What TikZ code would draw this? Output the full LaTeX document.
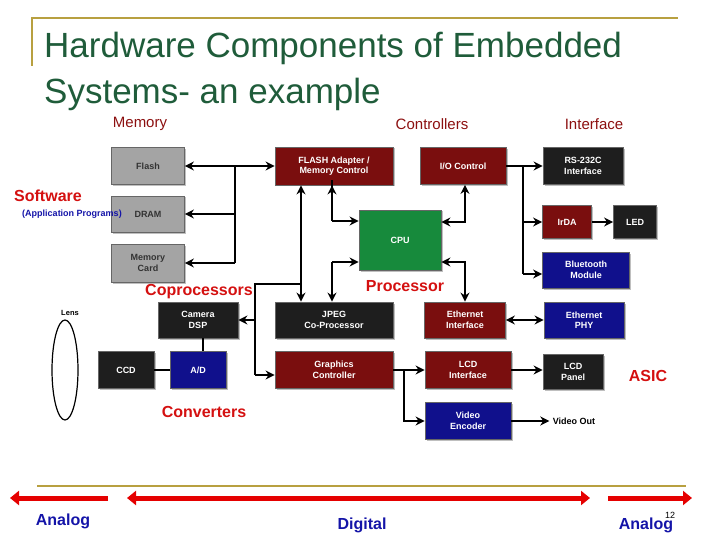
\documentclass[tikz,border=0pt]{standalone}
\usepackage{fontspec}
\setmainfont{Liberation Sans}
\usetikzlibrary{arrows.meta,shadows}
\definecolor{bxgray}{HTML}{A4A4A4}
\definecolor{bxred}{HTML}{7A0E0E}
\definecolor{bxblack}{HTML}{1E1E1E}
\definecolor{bxblue}{HTML}{10108C}
\definecolor{bxgreen}{HTML}{178A3C}
\definecolor{ttl}{HTML}{1F5C3A}
\definecolor{lbred}{HTML}{D41010}
\definecolor{lbblue}{HTML}{1414A8}
\definecolor{gold}{HTML}{B8A040}
\definecolor{hdred}{HTML}{8C1010}
\tikzset{
  bx/.style={draw=black!60,line width=0.8pt,minimum width=#1,inner sep=1pt,align=center,font=\fontsize{9}{10.5}\selectfont\bfseries,text=white,drop shadow={shadow xshift=1.5pt,shadow yshift=-1.5pt,opacity=0.5}},
  gbx/.style={bx=#1,fill=bxgray,text=black!80},
  rbx/.style={bx=#1,fill=bxred},
  kbx/.style={bx=#1,fill=bxblack},
  ubx/.style={bx=#1,fill=bxblue},
  ar/.style={line width=2pt,-{Stealth[length=9pt,width=9pt]}},
  dar/.style={line width=2pt,{Stealth[length=9pt,width=9pt]}-{Stealth[length=9pt,width=9pt]}},
  ln/.style={line width=2pt},
  redlbl/.style={text=lbred,font=\fontsize{16}{18}\selectfont\bfseries},
  hdr/.style={text=hdred,font=\fontsize{15}{17}\selectfont},
  blulbl/.style={text=lbblue,font=\fontsize{16}{18}\selectfont\bfseries},
  bigarr/.style={line width=5pt,draw=red!90!black,-{Triangle[length=9pt,width=14pt]}},
  bigdarr/.style={line width=5pt,draw=red!90!black,{Triangle[length=9pt,width=14pt]}-{Triangle[length=9pt,width=14pt]}}
}
\begin{document}
\begin{tikzpicture}[x=1pt,y=-1pt]
\useasboundingbox (0,0) rectangle (720,540);
% frame lines
\draw[gold,line width=2pt] (32,66) -- (32,18) -- (678,18);
\draw[gold,line width=2.5pt] (37,486) -- (686,486);
% title
\node[anchor=west,text=ttl,font=\fontsize{35}{38}\selectfont,inner sep=0pt] (title) at (44,48) {Hardware Components of Embedded};
\node[anchor=west,text=ttl,font=\fontsize{35}{38}\selectfont,inner sep=0pt] (title2) at (44,94) {Systems- an example};
\node[hdr] (hmem) at (140,124) {Memory};
\node[hdr] (hctl) at (432,124) {Controllers};
\node[hdr] (hint) at (594,124) {Interface};
% boxes
\node[gbx=73pt,minimum height=37pt] (flash) at (148,166) {Flash};
\node[gbx=73pt,minimum height=36pt] (dram) at (148,214) {DRAM};
\node[gbx=73pt,minimum height=38pt] (card) at (148,263) {Memory\\Card};
\node[rbx=118pt,minimum height=38pt] (fad) at (334,166) {FLASH Adapter /\\Memory Control};
\node[rbx=86pt,minimum height=37pt] (io) at (463,166) {I/O Control};
\node[kbx=80pt,minimum height=37pt] (rs) at (583,166) {RS-232C\\Interface};
\node[rbx=49pt,minimum height=33pt] (irda) at (567,222) {IrDA};
\node[kbx=43pt,minimum height=33pt] (led) at (635,222) {LED};
\node[bx=82pt,fill=bxgreen,minimum height=60pt] (cpu) at (400,240) {CPU};
\node[ubx=87pt,minimum height=36pt] (bt) at (586,270) {Bluetooth\\Module};
\node[kbx=80pt,minimum height=36pt] (cdsp) at (198,320) {Camera\\DSP};
\node[kbx=118pt,minimum height=36pt] (jpeg) at (334,320) {JPEG\\Co-Processor};
\node[rbx=81pt,minimum height=36pt] (eth) at (465,320) {Ethernet\\Interface};
\node[ubx=80pt,minimum height=36pt] (phy) at (584,320) {Ethernet\\PHY};
\node[kbx=56pt,minimum height=37pt] (ccd) at (126,370) {CCD};
\node[ubx=56pt,minimum height=37pt] (ad) at (198,370) {A/D};
\node[rbx=118pt,minimum height=37pt] (gfx) at (334,370) {Graphics\\Controller};
\node[rbx=86pt,minimum height=37pt] (lcdi) at (468,370) {LCD\\Interface};
\node[kbx=60pt,minimum height=35pt] (lcdp) at (573,372) {LCD\\Panel};
\node[ubx=86pt,minimum height=37pt] (venc) at (468,421) {Video\\Encoder};
\node[font=\fontsize{9}{10}\selectfont\bfseries] (vout) at (574,421) {Video Out};
\node[font=\fontsize{7.5}{8}\selectfont\bfseries] (lens) at (70,313) {Lens};
\draw[line width=1.2pt] (65,370) ellipse (13 and 50);
% memory bus
\coordinate (mb1) at (235,166);
\coordinate (mb2) at (235,263);
\draw[ln] (mb1) -- (mb2);
\draw[dar] (flash) -- (fad);
\draw[ar] (235,214) -- (dram);
\draw[ar] (mb2) -- (card);
% flash adapter - jpeg
\draw[dar] (fad.south -| 301,0) -- (jpeg.north -| 301,0);
\draw[ar] (332,221) |- (fad.south -| 332,0);
\draw[ar] (332,221) -- (cpu.west |- 332,221);
\draw[ar] (332,262) -- (jpeg.north -| 332,0);
\draw[ar] (332,262) -- (cpu.west |- 332,262);
% coprocessor bus
\coordinate (cb1) at (255,284);
\coordinate (cb2) at (255,375);
\draw[ln] (301,284) -- (cb1) -- (cb2);
\draw[ar] (255,320) -- (cdsp);
\draw[ar] (cb2) -- (gfx.west |- cb2);
\draw[ln] (ad.north -| 203,0) -- (cdsp.south -| 203,0);
\draw[ln] (ccd) -- (ad);
% right side
\coordinate (ib1) at (523,166);
\coordinate (ib2) at (523,274);
\draw[ln] (io) -- (ib1) -- (ib2);
\draw[ar] (ib1) -- (rs);
\draw[ar] (523,222) -- (irda);
\draw[ar] (ib2) -- (bt.west |- ib2);
\draw[ar] (irda) -- (led);
\draw[dar] (cpu.east |- 0,222) -| (io.south -| 465,0);
\draw[dar] (cpu.east |- 0,262) -| (eth.north);
\draw[dar] (eth) -- (phy);
\coordinate (gb) at (404,370);
\draw[ar] (gfx) -- (lcdi);
\draw[ar] (gb) |- (venc.west);
\draw[ar] (lcdi) -- (lcdp.west |- lcdi);
\draw[ar] (venc) -- (vout);
% labels
\node[redlbl] (sw) at (48,196) {Software};
\node[text=lbblue,font=\fontsize{9}{10}\selectfont\bfseries] (app) at (72,214) {(Application Programs)};
\node[redlbl] (copr) at (199,292) {Coprocessors};
\node[redlbl] (proc) at (405,286) {Processor};
\node[redlbl] (asic) at (648,376) {ASIC};
\node[redlbl] (conv) at (204,412) {Converters};
% bottom arrows
\coordinate (la1) at (108,498); \coordinate (la2) at (10,498);
\coordinate (da1) at (127,498); \coordinate (da2) at (590,498);
\coordinate (ra1) at (608,498); \coordinate (ra2) at (692,498);
\draw[bigarr] (la1) -- (la2);
\draw[bigdarr] (da1) -- (da2);
\draw[bigarr] (ra1) -- (ra2);
\node[blulbl] (an1) at (63,521) {Analog};
\node[blulbl] (dig) at (362,525) {Digital};
\node[blulbl] (an2) at (646,525) {Analog};
\node[font=\fontsize{9}{10}\selectfont\rmfamily] (pg) at (670,515) {12};
\end{tikzpicture}
\end{document}
